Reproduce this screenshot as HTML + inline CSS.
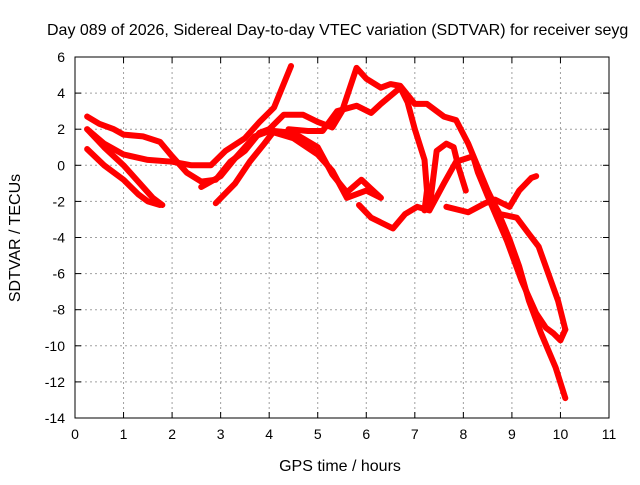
<!DOCTYPE html>
<html><head><meta charset="utf-8"><style>
body{margin:0;background:#fff;width:640px;height:480px;overflow:hidden}
svg{font-family:"Liberation Sans",sans-serif}
</style></head><body>
<svg id="chart" width="640" height="480">
<text x="47" y="35" font-size="16">Day 089 of 2026, Sidereal Day-to-day VTEC variation (SDTVAR) for receiver seyg</text>
<text x="340" y="471" font-size="16" text-anchor="middle">GPS time / hours</text>
<text transform="translate(20,238) rotate(-90)" font-size="16" text-anchor="middle">SDTVAR / TECUs</text>
<g id="grid"></g><g id="series"></g>
<rect x="75" y="57" width="534" height="361" fill="none" stroke="#000" stroke-width="1"/>
</svg>
<script>
const xTicks=[0,1,2,3,4,5,6,7,8,9,10,11];
const yTicks=[6,4,2,0,-2,-4,-6,-8,-10,-12,-14];
const track1=[[0.25,2.7],[0.5,2.3],[0.8,2.0],[1.0,1.7],[1.4,1.6],[1.75,1.3],[2.0,0.5],[2.3,-0.4],[2.6,-0.9],[2.9,-0.8],[3.2,0.2],[3.5,0.8],[3.8,1.8],[4.0,2.0]];
const track2=[[0.25,2.0],[0.6,1.2],[1.0,0.6],[1.5,0.3],[2.0,0.2],[2.4,0.0],[2.8,0.0],[3.1,0.8],[3.5,1.5],[3.8,2.4],[4.1,3.2],[4.45,5.5]];
const track3=[[0.25,2.0],[0.6,1.0],[1.0,0.0],[1.3,-0.9],[1.6,-1.8],[1.8,-2.2]];
const track4=[[0.25,0.9],[0.6,0.0],[1.0,-0.8],[1.3,-1.6],[1.5,-2.0],[1.75,-2.2]];
const track5=[[2.9,-2.1],[3.3,-1.0],[3.6,0.2],[3.9,1.2],[4.1,1.9],[4.5,1.8],[5.0,1.0],[5.3,-0.5],[5.6,-1.5],[5.9,-0.8],[6.1,-1.3],[6.3,-1.8]];
const track6=[[2.6,-1.2],[3.0,-0.6],[3.3,0.4],[3.7,1.6],[4.0,1.9],[4.5,1.5],[5.0,0.6],[5.3,-0.3],[5.6,-1.8],[6.0,-1.4],[6.3,-1.8]];
const track7=[[4.0,2.0],[4.3,2.8],[4.7,2.8],[5.0,2.4],[5.3,2.1],[5.5,3.0],[5.8,5.4],[6.0,4.8],[6.3,4.3],[6.5,4.5],[6.7,4.4],[7.0,3.4],[7.25,3.4],[7.6,2.7],[7.85,2.5],[8.1,1.2],[8.3,-0.1],[8.5,-1.4],[8.7,-2.5],[8.95,-4.1],[9.15,-5.6],[9.35,-7.5],[9.6,-9.3],[9.9,-11.2],[10.1,-12.9]];
const track8=[[4.4,2.0],[4.8,1.9],[5.1,1.9],[5.4,3.0],[5.8,3.3],[6.1,2.9],[6.3,3.4],[6.7,4.3],[6.85,3.5],[7.0,2.0],[7.2,0.3],[7.25,-1.4],[7.2,-2.5]];
const track9=[[5.85,-2.2],[6.1,-2.9],[6.55,-3.5],[6.8,-2.7],[7.05,-2.3],[7.3,-2.5],[7.6,-1.0],[7.85,0.2],[8.2,0.5],[8.3,-0.4],[8.5,-1.7],[8.9,-4.2],[9.2,-6.4],[9.5,-8.2],[9.7,-9.0],[9.85,-9.3],[10.0,-9.7],[10.1,-9.1]];
const track10=[[7.3,-2.4],[7.45,0.8],[7.65,1.2],[7.8,1.0],[7.9,-0.1],[8.05,-1.4]];
const track11=[[7.65,-2.3],[8.1,-2.6],[8.45,-2.1],[8.65,-1.9],[8.95,-2.3],[9.15,-1.4],[9.4,-0.7],[9.5,-0.6]];
const track12=[[8.6,-2.0],[8.75,-2.7],[9.1,-2.9],[9.35,-3.8],[9.55,-4.5],[9.75,-6.0],[9.95,-7.5],[10.1,-9.1]];
const tracks=[track1,track2,track3,track4,track5,track6,track7,track8,track9,track10,track11,track12];
const X0=75,X1=609,Y0=57,Y1=418,xMin=0,xMax=11,yMin=-14,yMax=6;
function sx(v){return X0+(v-xMin)/(xMax-xMin)*(X1-X0);}
function sy(v){return Y1-(v-yMin)/(yMax-yMin)*(Y1-Y0);}
const NS="http://www.w3.org/2000/svg";
const grid=document.getElementById('grid'),ser=document.getElementById('series');
function mk(t,a,p){const e=document.createElementNS(NS,t);for(const k in a)e.setAttribute(k,a[k]);p.appendChild(e);return e;}
xTicks.forEach(v=>{const x=sx(v);
 if(v>xMin&&v<xMax){const g=mk('line',{x1:x,x2:x,y1:Y0,y2:Y1,stroke:'#a0a0a0','stroke-dasharray':'2,3'},grid);
 
 }
 mk('line',{x1:x,x2:x,y1:Y1,y2:Y1-6,stroke:'#000'},grid);mk('line',{x1:x,x2:x,y1:Y0,y2:Y0+6,stroke:'#000'},grid);
 const t=mk('text',{x:x,y:Y1+21,'font-size':14,'text-anchor':'middle'},grid);t.textContent=v;
 
 });
yTicks.forEach(v=>{const y=sy(v);
 if(v>yMin&&v<yMax){const g=mk('line',{x1:X0,x2:X1,y1:y,y2:y,stroke:'#a0a0a0','stroke-dasharray':'2,3'},grid);
 
 }
 mk('line',{x1:X0,x2:X0+6,y1:y,y2:y,stroke:'#000'},grid);mk('line',{x1:X1,x2:X1-6,y1:y,y2:y,stroke:'#000'},grid);
 const t=mk('text',{x:X0-10,y:y+5,'font-size':14,'text-anchor':'end'},grid);t.textContent=v;
 
 });
tracks.forEach((tr,i)=>{const p=mk('polyline',{points:tr.map(d=>sx(d[0])+','+sy(d[1])).join(' '),fill:'none',stroke:'#ff0000','stroke-width':6,'stroke-linejoin':'round','stroke-linecap':'round'},ser);
 
 });
</script>
</body></html>
